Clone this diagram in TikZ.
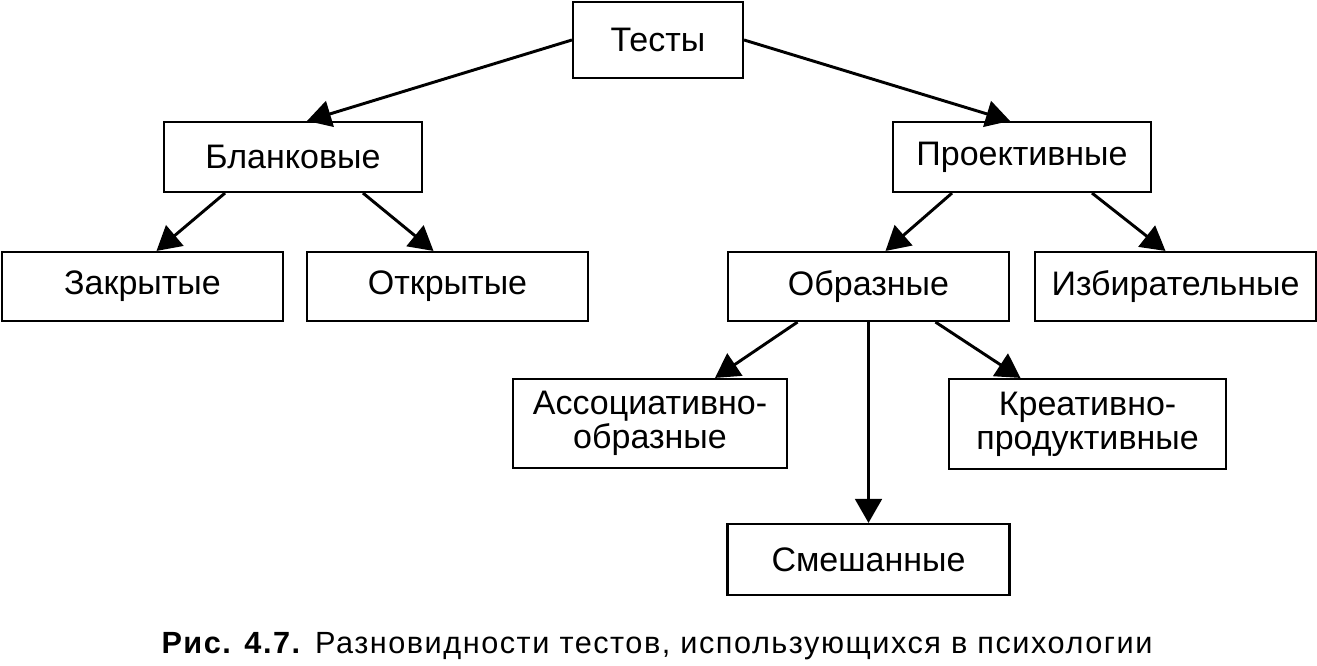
\documentclass[tikz,border=0pt]{standalone}
\usepackage{fontspec}
\setmainfont{Liberation Sans}
\usetikzlibrary{arrows.meta}
\begin{document}
\begin{tikzpicture}[x=0.75pt,y=-0.75pt,
  box/.style={draw, line width=1.6pt, inner sep=0pt, align=center, font=\fontsize{25.5}{25.5}\selectfont},
  >={Triangle[length=18pt,width=20pt]}, line width=2.2pt]
\useasboundingbox (0,0) rectangle (1317,666);
\node[box, minimum width=127.5pt, minimum height=57pt] (tests) at (658,40) {Тесты};
\node[box, minimum width=193.5pt, minimum height=52.5pt] (blank) at (293,157) {Бланковые};
\node[box, minimum width=193.5pt, minimum height=52.5pt] (proj) at (1022,157) {Проективные};
\node[box, minimum width=210.75pt, minimum height=51.75pt] (closed) at (142.5,286.5) {Закрытые};
\node[box, minimum width=210.75pt, minimum height=51.75pt] (open) at (447.5,286.5) {Открытые};
\node[box, minimum width=210.75pt, minimum height=51.75pt] (figur) at (868.5,286.5) {Образные};
\node[box, minimum width=210.75pt, minimum height=51.75pt] (select) at (1175.5,286.5) {Избирательные};
\node[box, minimum width=205.5pt, minimum height=66.75pt] (assoc) at (650,423.5) {Ассоциативно-\\образные};
\node[box, minimum width=207.75pt, minimum height=67.5pt] (creat) at (1087.5,424) {Креативно-\\продуктивные};
\node[box, minimum width=211.5pt, minimum height=53.25pt] (mixed) at (868.5,559.5) {Смешанные};
\node[anchor=base, font=\fontsize{23}{24}\selectfont\addfontfeatures{LetterSpace=5}] (caption) at (657,653) {\textbf{Рис. 4.7.} Разновидности тестов, использующихся в психологии};
\draw[->] (tests.west) -- ([xshift=10.5pt]blank.north);
\draw[->] (tests.east) -- ([xshift=-9pt]proj.north);
\draw[->] ([xshift=-51pt]blank.south) -- ([xshift=10.5pt]closed.north);
\draw[->] ([xshift=52.5pt]blank.south) -- ([xshift=-10.5pt]open.north);
\draw[->] ([xshift=-52.5pt]proj.south) -- ([xshift=12.75pt]figur.north);
\draw[->] ([xshift=52.5pt]proj.south) -- ([xshift=-7.5pt]select.north);
\draw[->] ([xshift=-53.25pt]figur.south) -- ([xshift=48.75pt]assoc.north);
\draw[->] ([xshift=50.25pt]figur.south) -- ([xshift=-50.25pt]creat.north);
\draw[->] (figur.south) -- (mixed.north);
\end{tikzpicture}
\end{document}
